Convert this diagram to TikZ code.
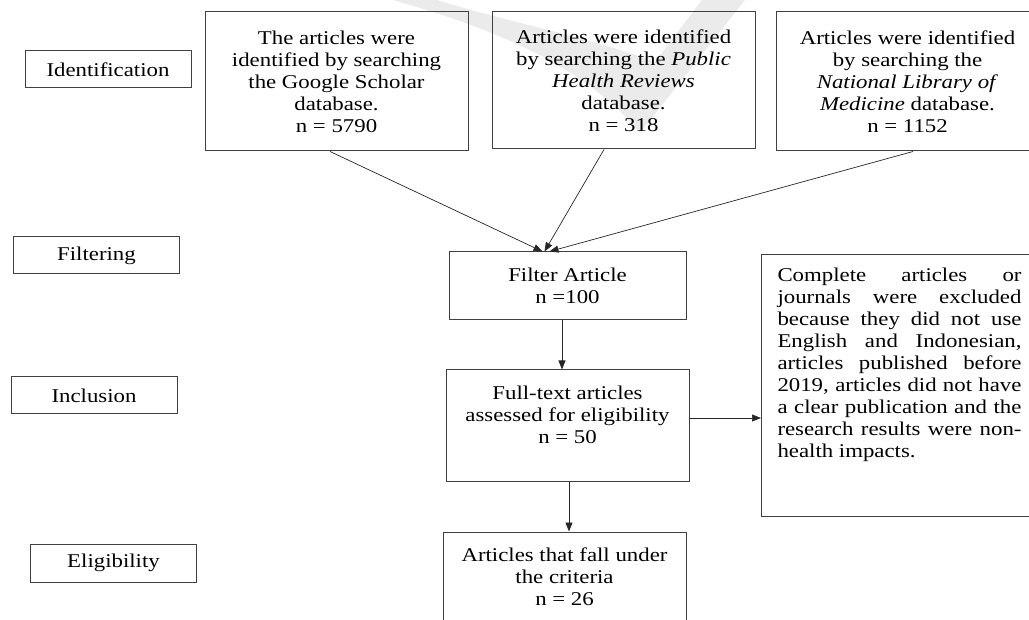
\documentclass[tikz,border=0pt]{standalone}
\usepackage{fontspec}
\setmainfont{Liberation Serif}[FakeStretch=1.17]
\usetikzlibrary{arrows.meta}

\tikzset{
  stage/.style={draw=black!75, line width=1pt, minimum width=166pt, minimum height=37pt, inner sep=0pt},
  flowbox/.style={draw=black!75, line width=1pt, align=center, inner sep=0pt},
  link/.style={draw=black!85, line width=0.7pt, -{Triangle[length=9pt,width=7pt]}},
}

\begin{document}
\begin{tikzpicture}[x=1pt, y=-1pt, font=\fontsize{19.5}{22}\selectfont, text=black]
    \useasboundingbox (0,0) rectangle (1029,620);
    \clip (0,0) rectangle (1029,620);

    % Watermark
    \fill[black!8] (393,0) .. controls (480,25) and (580,60) .. (640,133) -- (745,0) -- (702,0)
        -- (655,62) .. controls (600,40) and (500,20) .. (437,0) -- cycle;

    % Stages on the left
    \node[stage] (ident) at (108,69.5) {Identification};
    \node[stage] (filt) at (96.5,255.5) {Filtering};
    \node[stage] (incl) at (94,395.5) {Inclusion};
    \node[stage, minimum height=38pt] (elig) at (113.5,563) {Eligibility};

    % Sources
    \node[flowbox, minimum width=263pt, minimum height=139pt] (scholar) at (336.5,81.5)
        {The articles were\\ identified by searching\\ the Google Scholar\\ database.\\ n = 5790};
    \node[flowbox, minimum width=263pt, minimum height=137pt] (phr) at (623.5,80.5)
        {Articles were identified\\ by searching the \emph{Public}\\ \emph{Health Reviews}\\ database.\\ n = 318};
    \node[flowbox, minimum width=263pt, minimum height=139pt] (nlm) at (907.5,81.5)
        {Articles were identified\\ by searching the\\ \emph{National Library of}\\ \emph{Medicine} database.\\ n = 1152};

    % Screening
    \node[flowbox, minimum width=237pt, minimum height=68pt] (filter) at (567.5,286)
        {Filter Article\\ n =100};
    \node[flowbox, minimum width=243pt, minimum height=111pt] (full) at (567.5,425.5)
        {Full-text articles\\ assessed for eligibility\\ n = 50\\ \mbox{}};
    \node[flowbox, minimum width=243pt, minimum height=111pt] (crit) at (564.5,587.5)
        {Articles that fall under\\ the criteria\\ n = 26\\ \mbox{}};

    % Excluded
    \node[flowbox, align=justify, text width=244pt, inner xsep=16pt, inner ysep=0pt,
          text height=27pt, text depth=235pt, anchor=north west] (excl) at (761,254)
        {Complete articles or\linebreak journals were excluded\linebreak because they did not use\linebreak
         English and Indonesian,\linebreak articles published before\linebreak 2019, articles did not have\linebreak
         a clear publication and the\linebreak research results were non-\linebreak health impacts.};

    % Arrows
    \draw[link] ([xshift=-6.5pt]scholar.south) -- ([xshift=-25pt]filter.north);
    \draw[link] ([xshift=-19.5pt]phr.south) -- ([xshift=-23pt]filter.north);
    \draw[link] ([xshift=5.5pt]nlm.south) -- ([xshift=-18pt]filter.north);
    \draw[link] ([xshift=-5.5pt]filter.south) -- ([xshift=-5.5pt]full.north);
    \draw[link] ([xshift=1.5pt]full.south) -- ([xshift=4.5pt]crit.north);
    \coordinate (exit) at ([yshift=7.5pt]full.east);
    \draw[link] (exit) -- (exit -| excl.west);
\end{tikzpicture}
\end{document}
